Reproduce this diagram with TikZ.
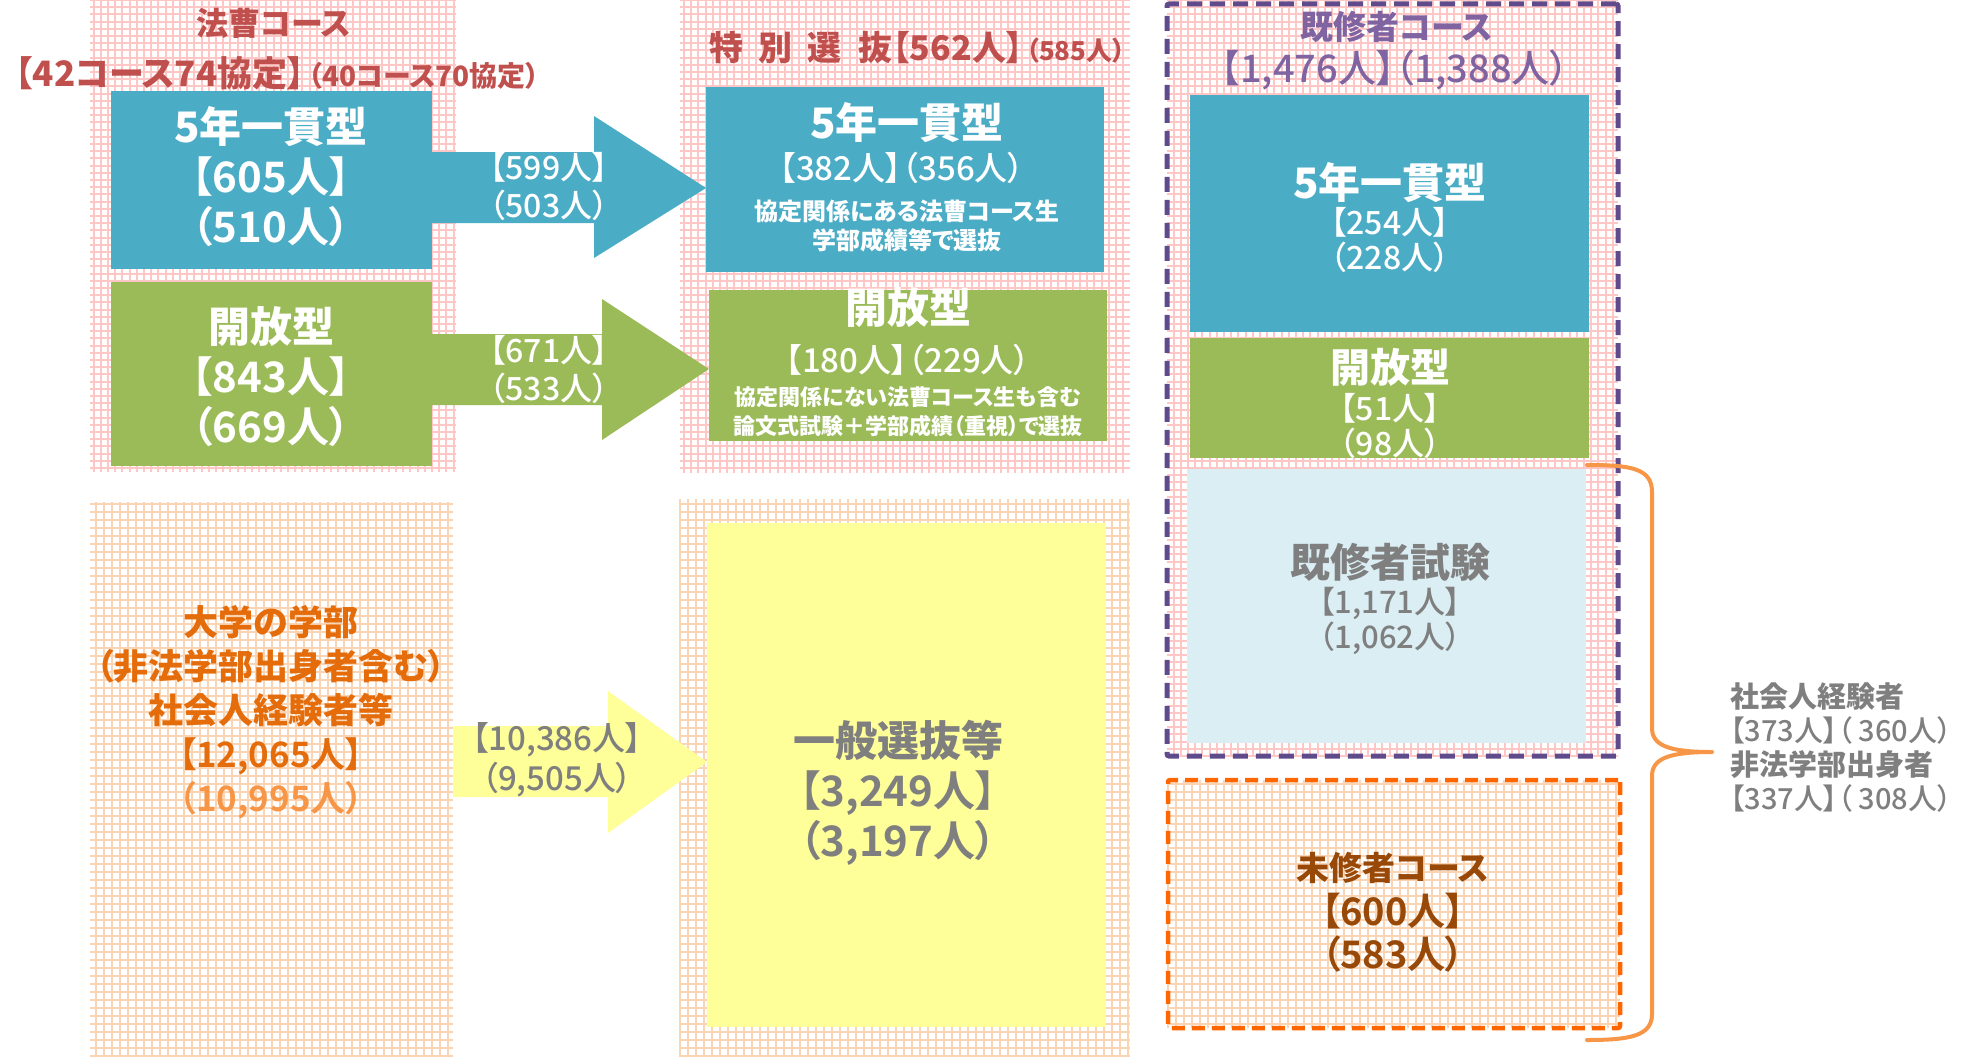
\documentclass[tikz,border=0pt]{standalone}
\usepackage{fontspec}
\setmainfont{Noto Sans CJK JP Medium}[RawFeature=+palt, BoldFont={Noto Sans CJK JP Black}]
\newfontfamily\jpb{Noto Sans CJK JP Bold}[RawFeature=+palt]
\usetikzlibrary{fit}
\definecolor{cblue}{HTML}{4BACC6}
\definecolor{cgreen}{HTML}{9BBB59}
\definecolor{cyellow}{HTML}{FFFF99}
\definecolor{clblue}{HTML}{DAEEF3}
\definecolor{cred}{HTML}{C0504D}
\definecolor{cpurple}{HTML}{8064A2}
\definecolor{cpurpled}{HTML}{5F4B8B}
\definecolor{corange}{HTML}{FF6600}
\definecolor{cbrace}{HTML}{F79646}
\definecolor{ctxtor}{HTML}{E46C0A}
\definecolor{ctxtortwo}{HTML}{F79646}
\definecolor{cbrown}{HTML}{984807}
\definecolor{cgray}{HTML}{7F7F7F}
\definecolor{gpink}{HTML}{FFC6C6}
\definecolor{gpeach}{HTML}{FBD4B4}
\newcommand\fsz[2]{\fontsize{#1}{#2}\selectfont}
\tikzset{
  boxnode/.style={inner sep=0pt, outer sep=0pt, draw=none},
  txt/.style={inner sep=0pt, outer sep=0pt, align=center},
  pinkgrid/.style={draw=gpink, line width=1.9pt, step=7.2pt},
  peachgrid/.style={draw=gpeach, line width=1.9pt, step=8pt},
  blockarrow/.style={draw=none},
  dashpurple/.style={draw=cpurpled, line width=5pt, dash pattern=on 15pt off 8pt, rounded corners=2pt},
  dashorange/.style={draw=corange, line width=4.5pt, dash pattern=on 13pt off 7pt, rounded corners=2pt},
  bracestyle/.style={draw=cbrace, line width=4pt, line cap=round, line join=round},
}
\begin{document}
\begin{tikzpicture}[x=1pt, y=-1pt]
\useasboundingbox (0,0) rectangle (1981,1057);
% grid panels
\draw[pinkgrid] (90,472) grid (456,0);
\draw[pinkgrid] (680,473) grid (1130,0);
\draw[pinkgrid] (1167,756) grid (1618,0);
\draw[peachgrid] (90,1057) grid (453,502);
\draw[peachgrid] (680,1057) grid (1130,499);
\draw[peachgrid] (1168,1028) grid (1620,780);

% boxes
\node[boxnode, fill=cblue, fit={(111,91) (432,269)}] (lblue) {};
\node[boxnode, fill=cgreen, fit={(111,282) (432,466)}] (lgreen) {};
\node[boxnode, fill=cblue, fit={(706,87) (1104,272)}] (mblue) {};
\node[boxnode, fill=cgreen, fit={(709,290) (1107,441)}] (mgreen) {};
\node[boxnode, fill=cblue, fit={(1190,95) (1589,332)}] (rblue) {};
\node[boxnode, fill=cgreen, fit={(1190,338) (1589,458)}] (rgreen) {};
\node[boxnode, fill=clblue, fit={(1187,469) (1586,743)}] (rlblue) {};
\node[boxnode, fill=cyellow, fit={(707,523) (1106,1027)}] (ybox) {};

% dashed frames
\node[boxnode, dashpurple, fit={(1167,4) (1618,756)}] (kishu) {};
\node[boxnode, dashorange, fit={(1168,780) (1620,1028)}] (mishu) {};

% block arrows
\fill[cblue, blockarrow] (lblue.east |- 0,152) -- (594,152) -- (594,116) -- (mblue.west |- 0,188) -- (594,258) -- (594,223) -- (lblue.east |- 0,223) -- cycle;
\fill[cgreen, blockarrow] (lgreen.east |- 0,334) -- (602,334) -- (602,299) -- (mgreen.west |- 0,369) -- (602,440) -- (602,405) -- (lgreen.east |- 0,405) -- cycle;
\fill[cyellow, blockarrow] (453,726) -- (608,726) -- (608,691) -- (ybox.west |- 0,762) -- (608,833) -- (608,797) -- (453,797) -- cycle;

% brace
\coordinate (bt) at (1587,465);
\coordinate (btip) at (1712,752);
\coordinate (bb) at (1587,1040);
\draw[bracestyle] (bt) .. controls (1630,465) and (1652,468) .. (1652,492) -- (1652,728)
  .. controls (1652,746) and (1670,752) .. (btip)
  .. controls (1670,752) and (1652,758) .. (1652,776) -- (1652,1014)
  .. controls (1652,1036) and (1630,1040) .. (bb);

% texts left top
\node[txt, text=cred, font={\fsz{32}{38}\bfseries}] (t1) at (274,23) {法曹コース};
\node[txt, anchor=base east, text=cred, font={\fsz{35}{40}\bfseries}] (t2a) at (305,87) {【42コース74協定】};
\node[txt, anchor=base west, text=cred, font={\fsz{28}{32}\bfseries}] (t2b) at (308,87) {（40コース70協定）};
\node[txt, text=white, font={\fsz{42}{50}}] (lbt) at (271,177) {{\bfseries 5年一貫型}\\{\jpb 【605人】}\\{\jpb （510人）}};
\node[txt, text=white, font={\fsz{42}{50}}] (lgt) at (271,377) {{\bfseries 開放型}\\{\jpb 【843人】}\\{\jpb （669人）}};
\node[txt, text=white, font={\fsz{32}{38}}] (a1t) at (549,186) {【599人】\\（503人）};
\node[txt, text=white, font={\fsz{32}{38}}] (a2t) at (549,369) {【671人】\\（533人）};

% middle top
\node[txt, anchor=base east, text=cred, font={\fsz{34}{40}\bfseries}] (t3a) at (1023,60) {特\hspace{0.45em}別\hspace{0.45em}選\hspace{0.5em}抜【562人】};
\node[txt, anchor=base west, text=cred, font={\fsz{26}{30}\bfseries}] (t3b) at (1026,60) {（585人）};
\node[txt, text=white, font={\fsz{42}{50}\bfseries}] (mb1) at (907,123) {5年一貫型};
\node[txt, text=white, font={\fsz{33}{36}}] (mb2) at (902,168) {【382人】（356人）};
\node[txt, text=white, font={\fsz{24}{29}\bfseries}] (mb3) at (907,226) {協定関係にある法曹コース生\\学部成績等で選抜};
\node[txt, text=white, font={\fsz{42}{50}\bfseries}] (mg1) at (908,308) {開放型};
\node[txt, text=white, font={\fsz{33}{36}}] (mg2) at (908,360) {【180人】（229人）};
\node[txt, text=white, font={\fsz{22}{29}\bfseries}] (mg3) at (908,412) {協定関係にない法曹コース生も含む\\論文式試験＋学部成績（重視）で選抜};

% right
\node[txt, text=cpurple, font={\fsz{33}{40}\bfseries}] (t4) at (1397,27) {既修者コース};
\node[txt, text=cpurple, font={\fsz{38}{42}}] (t5) at (1395,70) {【1,476人】（1,388人）};
\node[txt, text=white, font={\fsz{42}{50}\bfseries}] (rb1) at (1390,183) {5年一貫型};
\node[txt, text=white, font={\fsz{32}{35}}] (rb2) at (1390,240) {【254人】\\（228人）};
\node[txt, text=white, font={\fsz{40}{48}\bfseries}] (rg1) at (1390,367) {開放型};
\node[txt, text=white, font={\fsz{32}{35}}] (rg2) at (1390,425.5) {【51人】\\（98人）};
\node[txt, text=cgray, font={\fsz{40}{48}\bfseries}] (rl1) at (1390,562) {既修者試験};
\node[txt, text=cgray, font={\fsz{31}{35}}] (rl2) at (1390,621) {【1,171人】\\（1,062人）};
\node[txt, text=cbrown, font={\fsz{33}{40}\bfseries}] (ro1) at (1393,868) {未修者コース};
\node[txt, text=cbrown, font={\fsz{38}{43}}] (ro2) at (1393,933) {{\jpb 【600人】}\\{\jpb （583人）}};

% bottom
\node[txt, text=ctxtor, font={\fsz{35}{44}}] (bl) at (271,712) {{\bfseries 大学の学部}\\{\bfseries （非法学部出身者含む）}\\{\bfseries 社会人経験者等}\\{\jpb 【12,065人】}\\{\jpb\color{ctxtortwo}（10,995人）}};
\node[txt, text=cgray, font={\fsz{33}{40}}] (ya) at (557,760) {【10,386人】\\（9,505人）};
\node[txt, text=cgray, font={\fsz{42}{50}}] (yb) at (898,793) {{\bfseries 一般選抜等}\\{\jpb 【3,249人】}\\{\jpb （3,197人）}};

% brace label
\node[txt, align=left, anchor=west, text=cgray, font={\fsz{29}{33.7}}] (bk) at (1730,747.5) {{\bfseries 社会人経験者}\\【373人】（ 360人）\\{\bfseries 非法学部出身者}\\【337人】（ 308人）};
\end{tikzpicture}
\end{document}
